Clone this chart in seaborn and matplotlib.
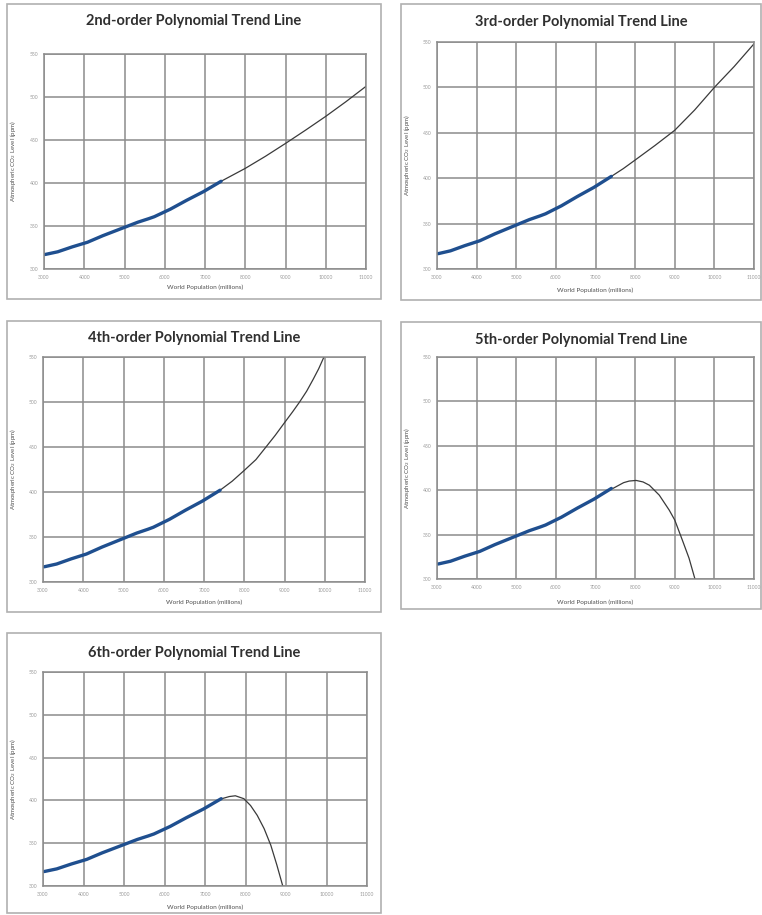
import matplotlib
matplotlib.use("Agg")
import matplotlib.pyplot as plt
import seaborn as sns
import pandas as pd
from matplotlib.patches import Rectangle

# observed data: world population (millions) vs Mauna Loa CO2 (ppm)
pop = [3030, 3340, 3700, 4080, 4460, 4870, 5330, 5600, 5740, 6140, 6540, 6960, 7400]
co2 = [316.9, 320.0, 325.7, 331.1, 338.7, 346.1, 354.4, 358.5, 360.8, 369.6, 379.8, 389.9, 402.0]

# trend lines (extrapolated part)
t2_x = [7400, 7700, 8000, 8500, 9000, 9500, 10000, 10500, 11000]
t2_y = [402, 409.5, 417, 431, 446, 461.5, 477.5, 494.5, 512.4]
t3_x = [7400, 7700, 8000, 8500, 9000, 9500, 10000, 10500, 11000]
t3_y = [402, 410.5, 420, 436, 452.8, 475, 500, 523, 548]
t4_x = [7400, 7700, 8000, 8290, 8540, 8770, 9000, 9200, 9375, 9550, 9710, 9850, 9980]
t4_y = [402, 412, 424, 436, 450, 463, 477, 489, 500, 512, 525, 537, 550]
t5_x = [7440, 7710, 7850, 8025, 8200, 8360, 8610, 8860, 9000, 9190, 9360, 9510]
t5_y = [402, 408.5, 410.3, 411, 409.3, 405.6, 394.4, 377.6, 366.4, 344, 323.5, 300]
t6_x = [7417, 7600, 7750, 7960, 8125, 8290, 8460, 8625, 8775, 8920]
t6_y = [402, 404.5, 405.4, 402, 394, 382.5, 367, 347.6, 324.4, 300]

titles = ["2nd-order Polynomial Trend Line", "3rd-order Polynomial Trend Line",
          "4th-order Polynomial Trend Line", "5th-order Polynomial Trend Line",
          "6th-order Polynomial Trend Line"]
trends = [(t2_x, t2_y), (t3_x, t3_y), (t4_x, t4_y), (t5_x, t5_y), (t6_x, t6_y)]

x_ticks = [3000, 4000, 5000, 6000, 7000, 8000, 9000, 10000, 11000]
y_ticks = [300, 350, 400, 450, 500, 550]

sns.set_style("white")
plt.rcParams['font.family'] = ['Lato', 'DejaVu Sans']

W, H = 762, 915
fig = plt.figure(figsize=(W / 100, H / 100), dpi=100)

# panel boxes (left, top, right, bottom) in pixels, axes boxes, title y, xlabel y
boxes = [(7, 4, 381, 299), (401, 4, 761, 300), (7, 321, 381, 612), (401, 322, 761, 609), (7, 633, 381, 913)]
axboxes = [(44, 54, 366, 269), (437, 42, 754, 269), (43, 357, 365, 582), (437, 357, 754, 579), (43, 672, 367, 886)]
title_y = [21, 22, 338, 340, 653]
xlab_y = [287, 290, 602, 602, 907]

obs = pd.DataFrame({"pop": pop, "co2": co2})

for i in range(5):
    l, t, r, b = boxes[i]
    fig.add_artist(Rectangle((l / W, 1 - b / H), (r - l) / W, (b - t) / H, transform=fig.transFigure,
                             facecolor="white", edgecolor="#b0b0b0", linewidth=1.2, zorder=0))
    al, at, ar, ab = axboxes[i]
    ax = fig.add_axes([al / W, 1 - ab / H, (ar - al) / W, (ab - at) / H])
    tx, ty = trends[i]
    tr = pd.DataFrame({"pop": tx, "co2": ty})
    sns.lineplot(data=tr, x="pop", y="co2", ax=ax, color="#3a3a3a", linewidth=0.9, sort=False)
    sns.lineplot(data=obs, x="pop", y="co2", ax=ax, color="#1f4f8f", linewidth=2.4)
    ax.set_xlim(3000, 11000)
    ax.set_ylim(300, 550)
    ax.set_xticks(x_ticks)
    ax.set_yticks(y_ticks)
    ax.set_xticklabels([str(v) for v in x_ticks])
    ax.set_yticklabels([str(v) for v in y_ticks])
    ax.grid(True, color="#8c8c8c", linewidth=1.1)
    ax.set_axisbelow(True)
    for s in ax.spines.values():
        s.set_color("#8c8c8c")
        s.set_linewidth(1.1)
    ax.tick_params(axis="both", labelsize=3.6, colors="#8c8c8c", labelcolor="#9a9a9a",
                   length=2, width=0.6, pad=2)
    ax.set_xlabel("")
    ax.set_ylabel("")
    cx = (l + r) / 2
    fig.text(cx / W, 1 - title_y[i] / H, titles[i], ha="center", va="center",
             fontsize=10.5, fontweight="bold", color="#303030")
    fig.text(((al + ar) / 2) / W, 1 - xlab_y[i] / H, "World Population (millions)",
             ha="center", va="center", fontsize=4.6, color="#505050")
    fig.text((l + 6) / W, 1 - ((at + ab) / 2) / H, "Atmospheric CO$_2$ Level (ppm)",
             ha="center", va="center", rotation=90, fontsize=4.4, color="#505050")

fig.savefig("out.png", dpi=100, facecolor="white")
